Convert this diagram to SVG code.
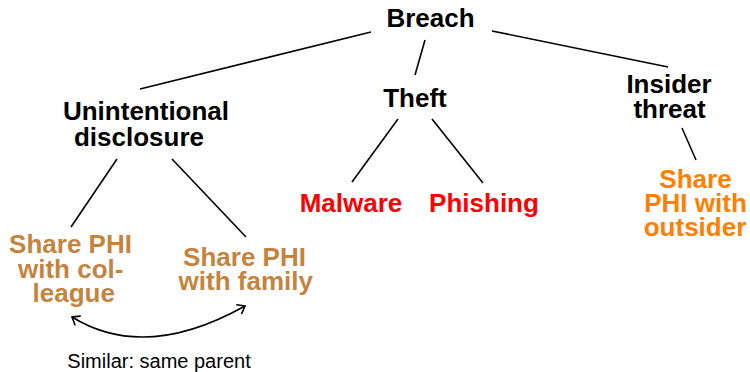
<svg xmlns="http://www.w3.org/2000/svg" width="750" height="372" viewBox="0 0 750 372">
  <style>
    .node { font-family: "Liberation Sans", Arial, Helvetica, sans-serif; font-weight: bold; font-size: 26px; text-anchor: middle; }
    .black { fill: #000000; }
    .red { fill: #FF0000; }
    .orange { fill: #FF8000; }
    .brown { fill: #C4843F; }
    .edge { stroke: #000000; stroke-width: 1.6; fill: none; stroke-linecap: butt; }
    .note { font-family: "Liberation Sans", Arial, Helvetica, sans-serif; font-size: 20px; fill: #000000; text-anchor: middle; }
  </style>
  <defs>
    <marker id="tip" viewBox="-8 -6 10 12" markerWidth="10" markerHeight="12" refX="0" refY="0" orient="auto-start-reverse" markerUnits="userSpaceOnUse">
      <path d="M -6.5,-5 Q -2,-1.5 0,0 Q -2,1.5 -6.5,5" fill="none" stroke="#000000" stroke-width="1.6" stroke-linecap="round"/>
    </marker>
  </defs>

  <rect width="750" height="372" fill="#ffffff"/>

  <g id="connectors">
    <line class="edge" x1="371" y1="32" x2="140" y2="89"/>
    <line class="edge" x1="425" y1="40" x2="415" y2="75"/>
    <line class="edge" x1="492" y1="31" x2="668" y2="67"/>
    <line class="edge" x1="398" y1="119" x2="352" y2="182"/>
    <line class="edge" x1="432" y1="119" x2="483" y2="183"/>
    <line class="edge" x1="682" y1="128" x2="696" y2="160"/>
    <line class="edge" x1="117" y1="159" x2="71" y2="227"/>
    <line class="edge" x1="172" y1="159" x2="246" y2="237"/>
    <path class="edge" d="M 72,317 Q 145,362 245,306" marker-start="url(#tip)" marker-end="url(#tip)"/>
  </g>

  <g id="breach">
    <text class="node black" x="430.5" y="27">Breach</text>
  </g>
  <g id="unintentional-disclosure">
    <text class="node black" x="146" y="120">Unintentional</text>
    <text class="node black" x="139" y="145.5">disclosure</text>
  </g>
  <g id="theft">
    <text class="node black" x="415" y="107">Theft</text>
  </g>
  <g id="insider-threat">
    <text class="node black" x="669" y="93">Insider</text>
    <text class="node black" x="669.5" y="118">threat</text>
  </g>
  <g id="malware">
    <text class="node red" x="351" y="212">Malware</text>
  </g>
  <g id="phishing">
    <text class="node red" x="484" y="212">Phishing</text>
  </g>
  <g id="share-outsider">
    <text class="node orange" x="695.5" y="187.5">Share</text>
    <text class="node orange" x="695.5" y="212">PHI with</text>
    <text class="node orange" x="695" y="236">outsider</text>
  </g>
  <g id="share-colleague">
    <text class="node brown" x="70.5" y="253">Share PHI</text>
    <text class="node brown" x="70.7" y="278">with col-</text>
    <text class="node brown" x="73.7" y="301.5">league</text>
  </g>
  <g id="share-family">
    <text class="node brown" x="244.5" y="265.5">Share PHI</text>
    <text class="node brown" x="245.8" y="290">with family</text>
  </g>

  <text class="note" x="159" y="367.5">Similar: same parent</text>
</svg>
